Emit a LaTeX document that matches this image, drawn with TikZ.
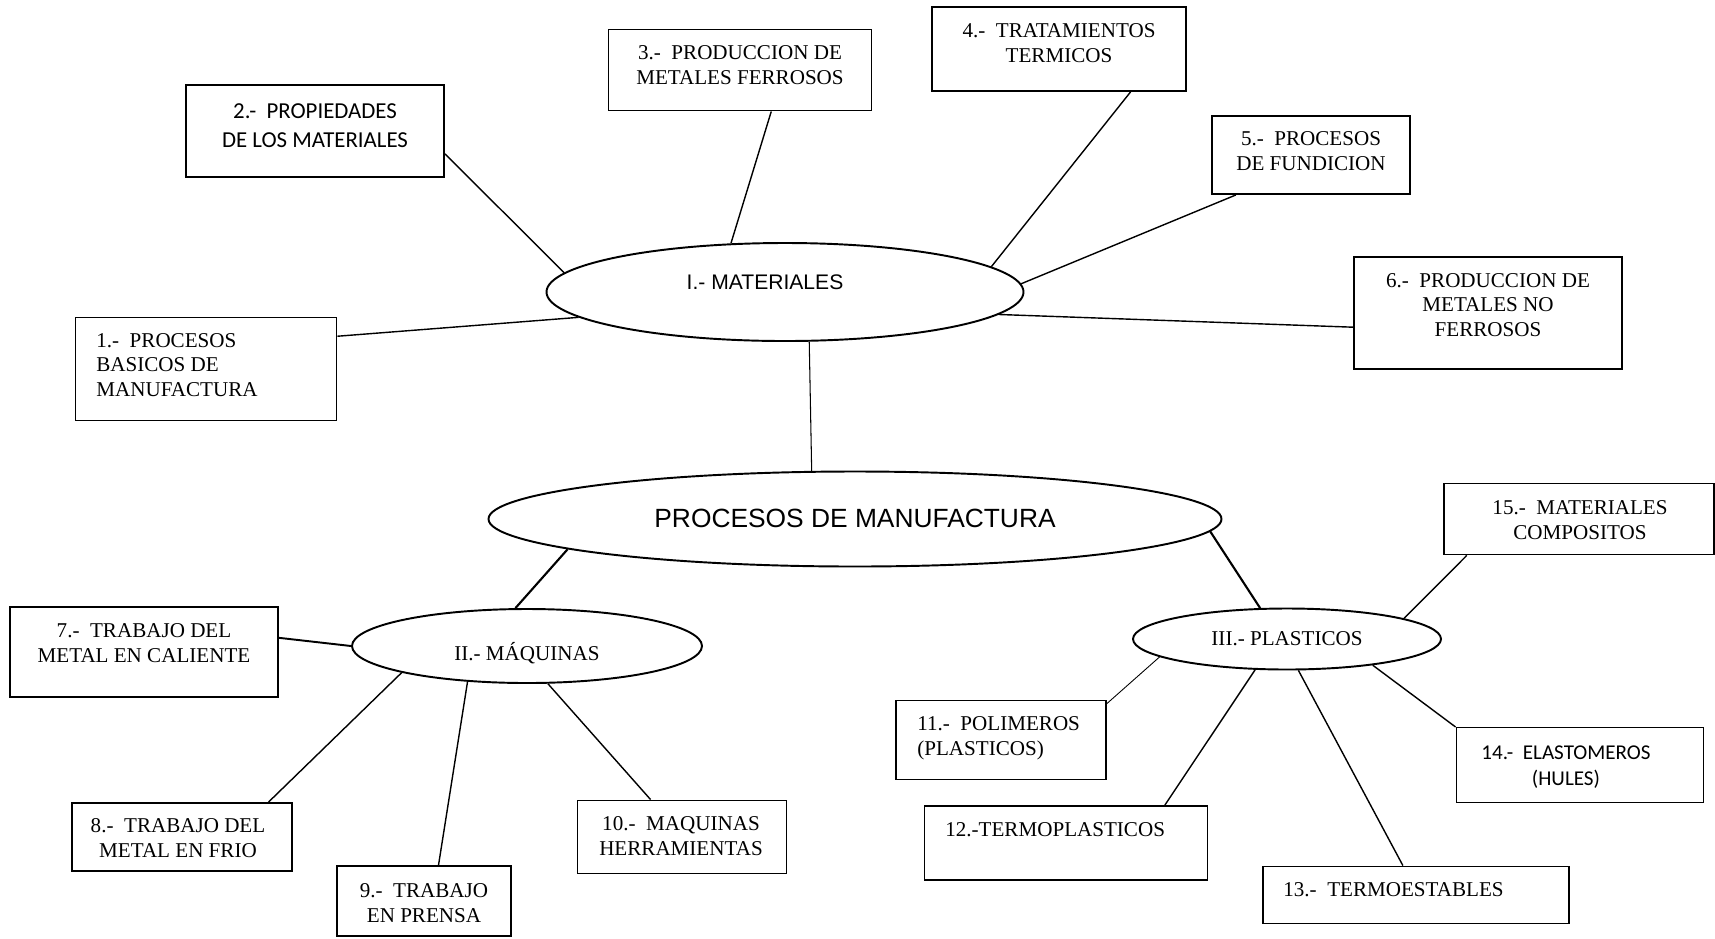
\documentclass[tikz,border=0pt]{standalone}
\usepackage{fontspec}
\setmainfont{Liberation Serif}
\newfontfamily\arialfont{Liberation Sans}
\newfontfamily\califont{Carlito}
\usetikzlibrary{shapes.geometric}

\tikzset{
  sz/.style 2 args={minimum width=#1*0.02cm, minimum height=#2*0.02cm},
  box/.style={draw, rectangle, line width=1.1pt, inner sep=0pt},
  oval/.style={draw, ellipse, line width=1.1pt, inner sep=0pt},
  txt/.style={inner sep=0pt, align=center, font=\fontsize{12}{14}\selectfont},
  link/.style={line width=0.8pt},
}

\begin{document}
\begin{tikzpicture}[x=0.02cm, y=-0.02cm]
    \useasboundingbox (0,0) rectangle (1715,938);

    % Ovals
    \node[oval, sz={733}{95}] (proc) at (855,519) {};
    \node[oval, sz={477}{98}] (mat) at (785,292) {};
    \node[oval, sz={350}{74}] (maq) at (527,646) {};
    \node[oval, sz={308}{61}] (plast) at (1287,639) {};
    \node[txt, font=\arialfont\fontsize{15}{18}\selectfont] (tproc) at (855,518) {PROCESOS DE MANUFACTURA};
    \node[txt, font=\arialfont\fontsize{12}{14}\selectfont] (tmat) at (765,282) {I.- MATERIALES};
    \node[txt] (tmaq) at (527,653) {II.- MÁQUINAS};
    \node[txt] (tplast) at (1287,639) {III.- PLASTICOS};

    % Materiales
    \node[box, sz={261}{103}] (b1) at (206,369) {};
    \node[txt, align=left, anchor=west] (t1) at (96,365) {1.-\ \ PROCESOS\\BASICOS DE\\MANUFACTURA};
    \node[box, sz={258}{92}] (b2) at (315,131) {};
    \node[txt, font=\califont\fontsize{13}{16.5}\selectfont] (t2) at (315,126) {2.-\ \ PROPIEDADES\\DE LOS MATERIALES};
    \node[box, sz={263}{81}] (b3) at (740,70) {};
    \node[txt] (t3) at (740,65) {3.-\ \ PRODUCCION DE\\METALES FERROSOS};
    \node[box, sz={254}{84}] (b4) at (1059,49) {};
    \node[txt] (t4) at (1059,43) {4.-\ \ TRATAMIENTOS\\TERMICOS};
    \node[box, sz={198}{78}] (b5) at (1311,155) {};
    \node[txt] (t5) at (1311,151) {5.-\ \ PROCESOS\\DE FUNDICION};
    \node[box, sz={268}{112}] (b6) at (1488,313) {};
    \node[txt] (t6) at (1488,305) {6.-\ \ PRODUCCION DE\\METALES NO\\FERROSOS};

    % Maquinas
    \node[box, sz={268}{90}] (b7) at (144,652) {};
    \node[txt] (t7) at (144,643) {7.-\ \ TRABAJO DEL\\METAL EN CALIENTE};
    \node[box, sz={220}{68}] (b8) at (182,837) {};
    \node[txt] (t8) at (178,838) {8.-\ \ TRABAJO DEL\\METAL EN FRIO};
    \node[box, sz={174}{70}] (b9) at (424,901) {};
    \node[txt] (t9) at (424,903) {9.-\ \ TRABAJO\\EN PRENSA};
    \node[box, sz={209}{73}] (b10) at (682,837) {};
    \node[txt] (t10) at (681,836) {10.-\ \ MAQUINAS\\HERRAMIENTAS};

    % Plasticos
    \node[box, sz={210}{79}] (b11) at (1001,740) {};
    \node[txt, align=left, anchor=west] (t11) at (917,738) {11.-\ \ POLIMEROS\\(PLASTICOS)};
    \node[box, sz={283}{74}] (b12) at (1066,843) {};
    \node[txt, anchor=west] (t12) at (945,830) {12.-TERMOPLASTICOS};
    \node[box, sz={306}{57}] (b13) at (1416,895) {};
    \node[txt, anchor=west] (t13) at (1283,890) {13.-\ \ TERMOESTABLES};
    \node[box, sz={247}{75}] (b14) at (1580,765) {};
    \node[txt, font=\califont\fontsize{12}{15}\selectfont] (t14) at (1566,767) {14.-\ \ ELASTOMEROS\\(HULES)};
    \node[box, sz={270}{71}] (b15) at (1579,519) {};
    \node[txt] (t15) at (1580,520) {15.-\ \ MATERIALES\\COMPOSITOS};

    % Links
    \draw[link] (b1.14.5) -- (mat.187.3);
    \draw[link] (b2.-10.7) -- (mat.175.4);
    \draw[link] (b3.-53.6) -- (mat.138.5);
    \draw[link] (b4.-31) -- (mat.7.8);
    \draw[link] (b5.208.3) -- (mat.2.7);
    \draw[link] (b6.186) -- (mat.-6.9);
    \draw[line width=0.6pt] (mat.-64.5) -- (proc.132);
    \draw[line width=1.2pt] (proc.186.2) -- (maq.107);
    \draw[line width=1.2pt] (proc.-2) -- (plast.131.6);
    \draw[line width=1.1pt] (b7.6) -- (maq.180.5);
    \draw[link] (b8.22) -- (maq.192.2);
    \draw[link] (b9.68.7) -- (maq.211.3);
    \draw[link] (b10.130.4) -- (maq.-61.5);
    \draw[line width=0.5pt] (b11.19.5) -- (plast.188.1);
    \draw[link] (b12.21.7) -- (plast.224.1);
    \draw[link] (b13.114.8) -- (plast.-70.4);
    \draw[link] (b14.163) -- (plast.-17.4);
    \draw[link] (b15.198.7) -- (plast.10.7);
\end{tikzpicture}
\end{document}
